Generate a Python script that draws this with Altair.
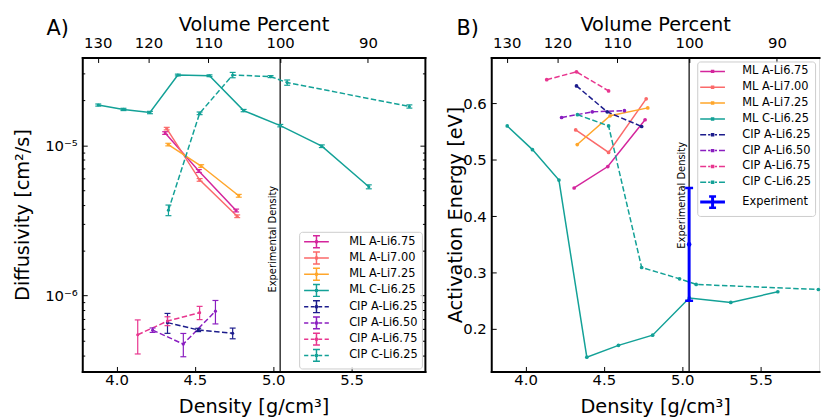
import altair as alt
import pandas as pd

FONT = "DejaVu Sans"
RHO_EXP = 5.044
VOLUMES = [130, 120, 110, 100, 90]
X_TICKS = [4.0, 4.5, 5.0, 5.5]

SERIES = ["ML A-Li6.75", "ML A-Li7.00", "ML A-Li7.25", "ML C-Li6.25",
          "CIP A-Li6.25", "CIP A-Li6.50", "CIP A-Li6.75", "CIP C-Li6.25"]
COLORS = ["#d4259c", "#fb6a6a", "#ffa62b", "#13a197",
          "#1c1c8c", "#8a1ec0", "#e8368f", "#13a197"]
EXP_NAME = "Experiment"
EXP_COLOR = "#0000ff"

# densities [g/cm^3]
d_ml_a675 = [4.31, 4.525, 4.763]
d_ml_a700 = [4.32, 4.53, 4.77]
d_ml_a725 = [4.33, 4.54, 4.78]
d_ml_c625 = [3.883, 4.044, 4.213, 4.391, 4.593, 4.811, 5.045, 5.310, 5.610]
d_cip_a625 = [4.325, 4.521, 4.741]
d_cip_a650 = [4.230, 4.426, 4.631]
d_cip_a675 = [4.135, 4.325, 4.530]
d_cip_c625 = [4.331, 4.530, 4.741, 4.983, 5.089, 5.869]

# diffusivity [cm^2/s]
D_ml_a675 = [1.205e-5, 6.74e-6, 3.68e-6]
D_ml_a700 = [1.29e-5, 5.88e-6, 3.37e-6]
D_ml_a725 = [1.01e-5, 7.27e-6, 4.61e-6]
D_ml_c625 = [1.85e-5, 1.73e-5, 1.65e-5, 2.93e-5, 2.90e-5, 1.70e-5, 1.35e-5, 9.85e-6, 5.29e-6]
D_cip_a625 = [6.61e-7, 5.91e-7, 5.62e-7]
D_cip_a650 = [5.89e-7, 4.76e-7, 7.88e-7]
D_cip_a675 = [5.49e-7, 6.77e-7, 7.70e-7]
D_cip_c625 = [3.70e-6, 1.63e-5, 2.93e-5, 2.86e-5, 2.61e-5, 1.81e-5]

# diffusivity error bars
E_ml_a675 = [2.5e-7, 1.5e-7, 8e-8]
E_ml_a700 = [2.5e-7, 1.2e-7, 7e-8]
E_ml_a725 = [2e-7, 1.5e-7, 1e-7]
E_ml_c625 = [3e-7, 3e-7, 3e-7, 4e-7, 4e-7, 3e-7, 2.5e-7, 2e-7, 1.6e-7]
E_cip_a625 = [1.0e-7, 1.5e-8, 4.6e-8]
E_cip_a650 = [2e-8, 8.4e-8, 1.4e-7]
E_cip_a675 = [1.4e-7, 4.6e-8, 7.8e-8]
E_cip_c625 = [3.0e-7, 3.3e-7, 1.2e-6, 4.3e-7, 1.05e-6, 4.5e-7]

# activation energy [eV]
Ea_ml_a675 = [0.450, 0.488, 0.571]
Ea_ml_a700 = [0.553, 0.513, 0.608]
Ea_ml_a725 = [0.527, 0.578, 0.592]
Ea_ml_c625 = [0.560, 0.518, 0.464, 0.150, 0.171, 0.189, 0.255, 0.247, 0.266]
Ea_cip_a625 = [0.631, 0.585, 0.559]
Ea_cip_a650 = [0.575, 0.585, 0.587]
Ea_cip_a675 = [0.642, 0.656, 0.622]
Ea_cip_c625 = [0.580, 0.560, 0.309, 0.289, 0.279, 0.270]
EXP_EA = 0.35
EXP_ERR = 0.10

DENS = [d_ml_a675, d_ml_a700, d_ml_a725, d_ml_c625, d_cip_a625, d_cip_a650, d_cip_a675, d_cip_c625]
DIFF = [D_ml_a675, D_ml_a700, D_ml_a725, D_ml_c625, D_cip_a625, D_cip_a650, D_cip_a675, D_cip_c625]
DERR = [E_ml_a675, E_ml_a700, E_ml_a725, E_ml_c625, E_cip_a625, E_cip_a650, E_cip_a675, E_cip_c625]
EACT = [Ea_ml_a675, Ea_ml_a700, Ea_ml_a725, Ea_ml_c625, Ea_cip_a625, Ea_cip_a650, Ea_cip_a675, Ea_cip_c625]

# label anchor values
TXT_Y_LEFT = 2.37e-6
TXT_Y_RIGHT = 0.437


def build(vals, errs=None):
    rows = []
    for k, s in enumerate(SERIES):
        for i, (di, vi) in enumerate(zip(DENS[k], vals[k])):
            r = {"series": s, "kind": s.split(" ")[0], "d": di, "v": vi, "ord": i}
            if errs is not None:
                r["lo"] = vi - errs[k][i]
                r["hi"] = vi + errs[k][i]
            rows.append(r)
    return pd.DataFrame(rows)


dfL = build(DIFF, DERR)
dfR = build(EACT)
vdf = pd.DataFrame({"d": [RHO_EXP]})
edf = pd.DataFrame({"series": [EXP_NAME], "d": [RHO_EXP], "v": [EXP_EA],
                    "lo": [EXP_EA - EXP_ERR], "hi": [EXP_EA + EXP_ERR]})

VOL_D = [RHO_EXP * 100.0 / v for v in VOLUMES]
MAJOR_L = [1e-6, 1e-5]
MINOR_L = [m * 1e-7 for m in range(4, 10)] + [m * 1e-6 for m in range(2, 10)] + [2e-5, 3e-5]
Y_TICKS_R = [0.2, 0.3, 0.4, 0.5, 0.6]

W, H, W2 = 346, 317, 331
XDOM_L = [3.781, 5.968]
XDOM_R = [3.781, 3.781 + (5.968 - 3.781) * W2 / W]
YDOM_L = [3.13e-7, 3.83e-5]
YDOM_R = [0.1247, 0.6813]
DASH = [5.5, 2.5]

P_SOLID_ERR = "M-2.5,0H2.5M0,-1.2V1.2M-0.7,-1.2H0.7M-0.7,1.2H0.7M-0.15,-0.15H0.15V0.15H-0.15Z"
P_DASH_ERR = ("M-2.5,0H-1.65M-1.15,0H-0.35M0.35,0H1.15M1.65,0H2.5"
              "M0,-1.2V1.2M-0.7,-1.2H0.7M-0.7,1.2H0.7M-0.15,-0.15H0.15V0.15H-0.15Z")
P_SOLID_DOT = "M-2.5,0H2.5M-0.2,-0.2H0.2V0.2H-0.2Z"
P_DASH_DOT = "M-2.5,0H-1.3M-0.9,0H-0.45M0.45,0H0.9M1.3,0H2.5M-0.2,-0.2H0.2V0.2H-0.2Z"
P_EXP = ("M-2.5,-0.15H2.5M-2.5,0.15H2.5M-0.15,-1.1V1.1M0.15,-1.1V1.1"
         "M-0.7,-1.05H0.7M-0.7,-1.25H0.7M-0.7,1.05H0.7M-0.7,1.25H0.7")
SHAPES_L = [P_SOLID_ERR] * 4 + [P_DASH_ERR] * 4
SHAPES_R = [P_SOLID_DOT] * 4 + [P_DASH_DOT] * 4 + [P_EXP]


def ax_lab(orient, values, expr, title, lpad, tpad):
    return alt.Axis(orient=orient, values=values, labelExpr=expr, title=title,
                    ticks=False, domain=True, domainColor="black", domainWidth=2,
                    domainCap="square", grid=False, labelFontSize=15, titleFontSize=19.5,
                    titleFontWeight="normal", labelPadding=lpad, titlePadding=tpad,
                    labelColor="black", titleColor="black", labelFont=FONT, titleFont=FONT,
                    labelFlush=False, labelOverlap=False)


def ax_tk(orient, values, offset, size, domain=False):
    return alt.Axis(orient=orient, values=values, offset=offset, ticks=True, tickSize=size,
                    tickWidth=1, tickColor="black", labels=False, title=None, domain=domain,
                    domainColor="black", domainWidth=2, domainCap="square", grid=False)


def legend(orient, offset, lab_off, sym_off, row_pad):
    return alt.Legend(title=None, orient=orient, offset=offset, labelFontSize=11.5,
                      labelFont=FONT, labelColor="black", symbolSize=100,
                      symbolStrokeWidth=1.5, symbolOffset=sym_off, labelOffset=lab_off,
                      rowPadding=row_pad, padding=4, fillColor="rgba(255,255,255,0.8)",
                      strokeColor="#cccccc", cornerRadius=3, labelLimit=200)


X_EXPR = "format(datum.value, '.1f')"
VOL_EXPR = f"format(100*{RHO_EXP}/datum.value, '.0f')"
IS_ML = "datum.kind == 'ML'"
IS_CIP = "datum.kind == 'CIP'"

BOT = dict(lpad=1, tpad=10)
TOP = dict(lpad=7, tpad=1.5)

# ---------------- left panel ----------------
xsL = alt.Scale(domain=XDOM_L, nice=False, zero=False)
ysL = alt.Scale(type="log", domain=YDOM_L, nice=False)
colL = alt.Scale(domain=SERIES, range=COLORS)
legL = legend("bottom-right", 3, 27, 7.5, -1.6)
cL = alt.Color("series:N", scale=colL, legend=legL)
baseL = alt.Chart(dfL)

legLayerL = baseL.transform_filter("false").mark_point(filled=False, strokeWidth=1.5, opacity=1).encode(
    color=cL,
    shape=alt.Shape("series:N", scale=alt.Scale(domain=SERIES, range=SHAPES_L), legend=legL))
vlineL = alt.Chart(vdf).mark_rule(color="black", strokeWidth=1.2).encode(
    x=alt.X("d:Q", scale=xsL, axis=None))
linesL = baseL.transform_filter(IS_ML).mark_line(strokeWidth=1.5).encode(
    x=alt.X("d:Q", scale=xsL, axis=ax_lab("bottom", X_TICKS, X_EXPR, "Density [g/cm³]", **BOT)),
    y=alt.Y("v:Q", scale=ysL, axis=ax_lab("left", MAJOR_L,
            "datum.value < 3e-6 ? '10⁻⁶' : '10⁻⁵'", "Diffusivity [cm²/s]", 5, 12)),
    color=cL, order="ord:Q")
dlinesL = baseL.transform_filter(IS_CIP).mark_line(strokeWidth=1.5, strokeDash=DASH).encode(
    x=alt.X("d:Q", scale=xsL, axis=None),
    y=alt.Y("v:Q", scale=ysL, axis=None),
    color=cL, order="ord:Q")
errL = baseL.mark_rule(strokeWidth=1.2).encode(
    x=alt.X("d:Q", scale=xsL, axis=ax_tk("top", X_TICKS, -H, 5)),
    y=alt.Y("lo:Q", scale=ysL, axis=ax_tk("left", MAJOR_L, -W, 5, domain=True)),
    y2="hi:Q", color=cL)
capLoL = baseL.mark_tick(orient="horizontal", size=6, thickness=1.2, opacity=1).encode(
    x=alt.X("d:Q", scale=xsL, axis=ax_tk("bottom", VOL_D, -H, 5)),
    y=alt.Y("lo:Q", scale=ysL, axis=ax_tk("right", MINOR_L, -W, 2.5)),
    color=cL)
capHiL = baseL.mark_tick(orient="horizontal", size=6, thickness=1.2, opacity=1).encode(
    x=alt.X("d:Q", scale=xsL, axis=None),
    y=alt.Y("hi:Q", scale=ysL, axis=ax_tk("left", MINOR_L, -W, 2.5)),
    color=cL)
ptsL = baseL.mark_point(filled=True, size=10, opacity=1).encode(
    x=alt.X("d:Q", scale=xsL, axis=ax_lab("top", VOL_D, VOL_EXPR, "Volume Percent", **TOP)),
    y=alt.Y("v:Q", scale=ysL, axis=ax_tk("right", MAJOR_L, -W, 5)),
    color=cL)
txtL = alt.Chart(pd.DataFrame({"d": [RHO_EXP], "v": [TXT_Y_LEFT], "t": ["Experimental Density"]})).mark_text(
    angle=270, baseline="bottom", align="center", dy=-2, fontSize=10, font=FONT, color="black").encode(
    x=alt.X("d:Q", scale=xsL, axis=None), y=alt.Y("v:Q", scale=ysL, axis=None), text="t:N")

left = alt.layer(legLayerL, vlineL, linesL, dlinesL, errL, capLoL, capHiL, ptsL, txtL).resolve_axis(
    x="independent", y="independent").properties(
    width=W, height=H,
    title=alt.TitleParams("A)", anchor="start", frame="group", dx=-36, dy=29, fontSize=21,
                          fontWeight="normal", color="black", font=FONT))

# ---------------- right panel ----------------
SER_R = SERIES + [EXP_NAME]
xsR = alt.Scale(domain=XDOM_R, nice=False, zero=False)
ysR = alt.Scale(domain=YDOM_R, nice=False, zero=False)
colR = alt.Scale(domain=SER_R, range=COLORS + [EXP_COLOR])
legR = legend("top-right", 4, 24, 5.5, 4)
cR = alt.Color("series:N", scale=colR, legend=legR)
baseR = alt.Chart(dfR)
baseE = alt.Chart(edf)

legLayerR = baseR.transform_filter("false").mark_point(filled=False, strokeWidth=1.5, opacity=1).encode(
    color=cR,
    shape=alt.Shape("series:N", scale=alt.Scale(domain=SER_R, range=SHAPES_R), legend=legR))
vlineR = alt.Chart(vdf).mark_rule(color="black", strokeWidth=1.2).encode(
    x=alt.X("d:Q", scale=xsR, axis=None))
linesR = baseR.transform_filter(IS_ML).mark_line(strokeWidth=1.5).encode(
    x=alt.X("d:Q", scale=xsR, axis=ax_lab("bottom", X_TICKS, X_EXPR, "Density [g/cm³]", **BOT)),
    y=alt.Y("v:Q", scale=ysR, axis=ax_lab("left", Y_TICKS_R, X_EXPR, "Activation Energy [eV]", 5, -3)),
    color=cR, order="ord:Q")
dlinesR = baseR.transform_filter(IS_CIP).mark_line(strokeWidth=1.5, strokeDash=DASH).encode(
    x=alt.X("d:Q", scale=xsR, axis=None),
    y=alt.Y("v:Q", scale=ysR, axis=None),
    color=cR, order="ord:Q")
ptsR = baseR.mark_point(filled=True, size=14, opacity=1).encode(
    x=alt.X("d:Q", scale=xsR, axis=ax_lab("top", VOL_D, VOL_EXPR, "Volume Percent", **TOP)),
    y=alt.Y("v:Q", scale=ysR, axis=ax_tk("right", Y_TICKS_R, -W2, 5)),
    color=cR)
expRule = baseE.mark_rule(strokeWidth=3).encode(
    x=alt.X("d:Q", scale=xsR, axis=ax_tk("top", X_TICKS, -H, 5)),
    y=alt.Y("lo:Q", scale=ysR, axis=None), y2="hi:Q", color=cR)
expCapLo = baseE.mark_tick(orient="horizontal", size=8, thickness=2.5, opacity=1).encode(
    x=alt.X("d:Q", scale=xsR, axis=ax_tk("bottom", VOL_D, -H, 5)),
    y=alt.Y("lo:Q", scale=ysR, axis=None), color=cR)
expCapHi = baseE.mark_tick(orient="horizontal", size=8, thickness=2.5, opacity=1).encode(
    x=alt.X("d:Q", scale=xsR, axis=None),
    y=alt.Y("hi:Q", scale=ysR, axis=None), color=cR)
expPt = baseE.mark_point(filled=True, size=22, opacity=1).encode(
    x=alt.X("d:Q", scale=xsR, axis=None),
    y=alt.Y("v:Q", scale=ysR, axis=None), color=cR)
txtR = alt.Chart(pd.DataFrame({"d": [RHO_EXP], "v": [TXT_Y_RIGHT], "t": ["Experimental Density"]})).mark_text(
    angle=270, baseline="bottom", align="center", dy=-2, fontSize=10, font=FONT, color="black").encode(
    x=alt.X("d:Q", scale=xsR, axis=None), y=alt.Y("v:Q", scale=ysR, axis=None), text="t:N")

right = alt.layer(legLayerR, vlineR, linesR, dlinesR, ptsR, expRule, expCapLo, expCapHi, expPt, txtR).resolve_axis(
    x="independent", y="independent").properties(
    width=W2, height=H,
    title=alt.TitleParams("B)", anchor="start", frame="group", dx=-35, dy=29, fontSize=21,
                          fontWeight="normal", color="black", font=FONT))

chart = alt.hconcat(left, right, spacing=19).resolve_scale(
    color="independent", shape="independent"
).resolve_legend(color="independent", shape="independent").properties(
    padding={"left": 4, "top": 4, "right": 0, "bottom": 0}
).configure_view(stroke=None).configure(font=FONT)

chart.save("out.html", embed_options={"renderer": "svg", "actions": False})
